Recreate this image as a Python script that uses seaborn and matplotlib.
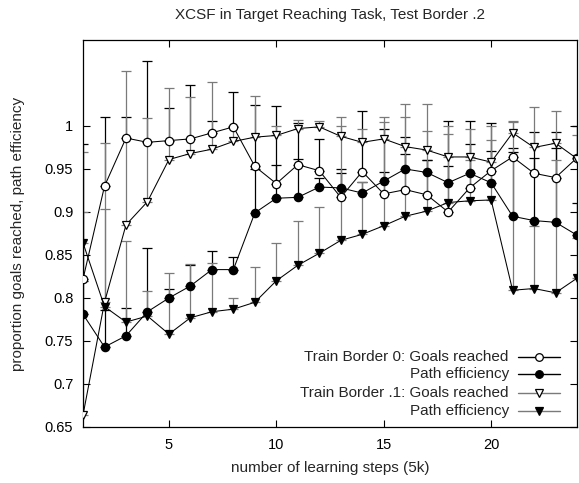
import numpy as np
import seaborn as sns
import matplotlib
matplotlib.use("Agg")
import matplotlib.pyplot as plt
from matplotlib.lines import Line2D

# data
steps = list(range(1, 25))

goals_b0 = [0.822, 0.930, 0.986, 0.981, 0.983, 0.985, 0.992, 0.999, 0.953, 0.933, 0.955, 0.948,
            0.917, 0.947, 0.921, 0.926, 0.920, 0.900, 0.928, 0.948, 0.964, 0.945, 0.940, 0.963]
path_b0 = [0.781, 0.743, 0.756, 0.784, 0.800, 0.814, 0.833, 0.833, 0.899, 0.916, 0.917, 0.929,
           0.928, 0.922, 0.936, 0.950, 0.946, 0.934, 0.945, 0.934, 0.895, 0.890, 0.888, 0.873]
goals_b1 = [0.664, 0.795, 0.885, 0.912, 0.961, 0.968, 0.973, 0.982, 0.987, 0.989, 0.997, 0.999,
            0.988, 0.981, 0.985, 0.976, 0.972, 0.964, 0.964, 0.958, 0.992, 0.975, 0.980, 0.962]
path_b1 = [0.864, 0.790, 0.772, 0.779, 0.758, 0.777, 0.784, 0.787, 0.795, 0.820, 0.838, 0.852,
           0.867, 0.874, 0.884, 0.895, 0.901, 0.911, 0.913, 0.914, 0.809, 0.811, 0.806, 0.823]

# upper error (only the upper half is drawn in the reference)
err_goals_b0 = [0.157, 0.080, 0.024, 0.094, 0.038, 0.063, 0.014, 0.041, 0.071, 0.090, 0.049, 0.037,
                0.033, 0.070, 0.025, 0.041, 0.040, 0.106, 0.051, 0.023, 0.010, 0.048, 0.034, 0.037]
err_path_b0 = [0.039, 0.043, 0.032, 0.074, 0.010, 0.024, 0.022, 0.015, 0.051, 0.039, 0.045, 0.011,
               0.017, 0.013, 0.061, 0.037, 0.014, 0.019, 0.061, 0.069, 0.075, 0.073, 0.105, 0.037]
err_goals_b1 = [0.306, 0.185, 0.179, 0.097, 0.083, 0.066, 0.078, 0.018, 0.048, 0.011, 0.010, 0.007,
                0.022, 0.015, 0.026, 0.050, 0.053, 0.027, 0.033, 0.026, 0.013, 0.047, 0.037, 0.028]
err_path_b1 = [0.036, 0.113, 0.094, 0.029, 0.071, 0.063, 0.057, 0.013, 0.041, 0.044, 0.052, 0.054,
               0.133, 0.061, 0.121, 0.115, 0.093, 0.089, 0.047, 0.086, 0.197, 0.073, 0.154, 0.047]

labels = ["Train Border 0: Goals reached", "Path efficiency",
          "Train Border .1: Goals reached", "Path efficiency"]
yticks = [0.65, 0.7, 0.75, 0.8, 0.85, 0.9, 0.95, 1.0]
ytick_labels = ["0.65", "0.7", "0.75", "0.8", "0.85", "0.9", "0.95", "1"]

sns.set_style("ticks")
plt.rcParams["font.family"] = ["Liberation Sans", "DejaVu Sans"]

GRAY = "#7a7a7a"

fig = plt.figure(figsize=(5.79, 4.83), dpi=100)
ax = fig.add_axes([0.1434, 0.1160, 0.8532, 0.8012])

series = [
    (goals_b0, err_goals_b0, "o", "white", "black"),
    (path_b0, err_path_b0, "o", "black", "black"),
    (goals_b1, err_goals_b1, "v", "white", GRAY),
    (path_b1, err_path_b1, "v", "black", GRAY),
]

for vals, err, mk, face, ecol in series:
    ax.errorbar(steps, vals, yerr=[np.zeros(len(err)), err], fmt="none",
                ecolor=ecol, elinewidth=0.9, capsize=3.5, capthick=0.9, zorder=2)

for vals, err, mk, face, ecol in series:
    sns.lineplot(x=steps, y=vals, ax=ax, color="black", lw=0.75, marker=mk,
                 markersize=6, markerfacecolor=face, markeredgecolor="black",
                 markeredgewidth=0.9, zorder=3)

# gnuplot-style key: right aligned text, sample on the right
rows_y = [0.181, 0.137, 0.088, 0.041]
for (vals, err, mk, face, ecol), lab, yy in zip(series, labels, rows_y):
    ax.text(0.862, yy, lab, transform=ax.transAxes, ha="right", va="center", fontsize=11)
    ax.add_line(Line2D([0.881, 0.966], [yy, yy], transform=ax.transAxes, color=ecol, lw=1.0))
    ax.add_line(Line2D([0.9235], [yy], transform=ax.transAxes, marker=mk, ms=5.5,
                       mfc=face, mec="black", mew=0.9, ls="none"))

ax.set_xlim(1, 24)
ax.set_ylim(0.65, 1.10)
ax.set_xticks([5, 10, 15, 20])
ax.set_yticks(yticks)
ax.set_yticklabels(ytick_labels)
ax.tick_params(direction="in", top=True, right=True, length=5, width=0.8,
               labelsize=10.5, colors="black")
ax.tick_params(axis="y", pad=7)
ax.tick_params(axis="x", pad=8)
for sp in ax.spines.values():
    sp.set_visible(True)
    sp.set_color("black")
    sp.set_linewidth(0.9)

ax.set_title("XCSF in Target Reaching Task, Test Border .2", fontsize=11, pad=15)
ax.set_xlabel("number of learning steps (5k)", fontsize=11)
ax.set_ylabel("proportion goals reached, path efficiency", fontsize=11)
ax.xaxis.set_label_coords(0.5, -0.088)
ax.yaxis.set_label_coords(-0.118, 0.5)

fig.savefig("out.png", dpi=100)
